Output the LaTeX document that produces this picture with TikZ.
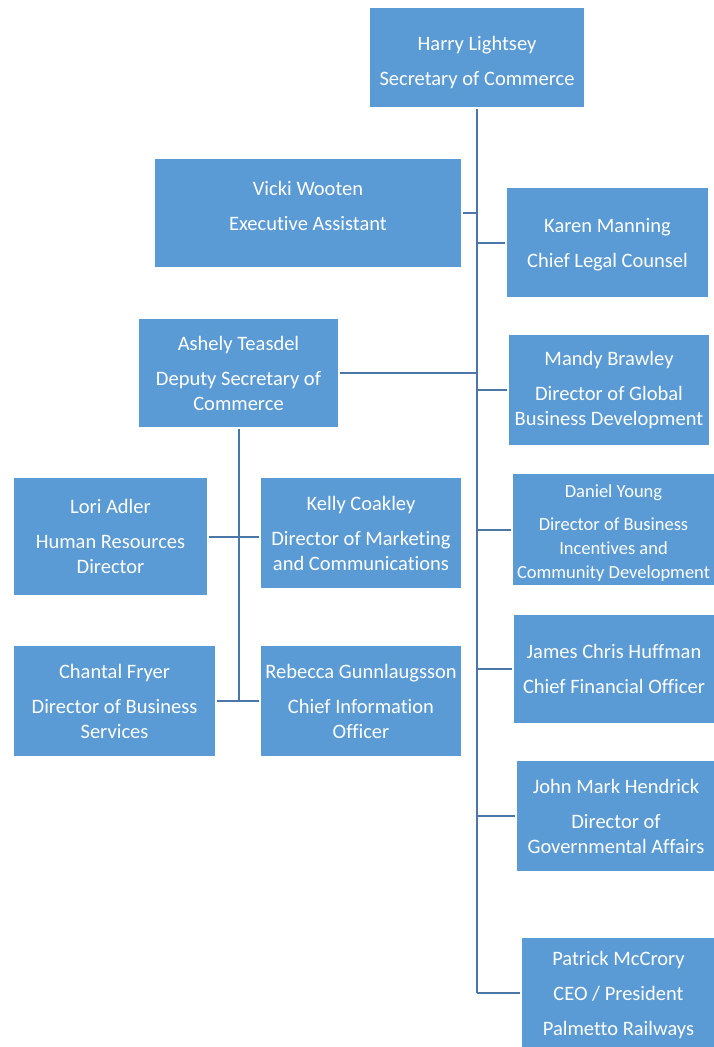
\documentclass[tikz,border=0pt]{standalone}
\usepackage{fontspec}
\setmainfont{Carlito}[Ligatures=NoCommon]
\definecolor{boxblue}{HTML}{5B9BD5}
\definecolor{boxgray}{HTML}{CFCFCF}
\definecolor{linkblue}{HTML}{4A76A8}
\newcommand\padtop[1]{\raisebox{#1}{\vphantom{Hl}}}
\newcommand\padbot[1]{\raisebox{-#1}{\vphantom{gy}}}
\begin{document}
\begin{tikzpicture}[x=1pt,y=-1pt,
  box/.style={rectangle, fill=boxblue, draw=white, line width=1.2pt,
    preaction={draw=boxgray, line width=2.8pt},
    text=white, align=center, inner sep=0pt,
    font=\fontsize{20.5}{25}\selectfont},
  smallbox/.style={box, font=\fontsize{18.5}{24}\selectfont},
  conn/.style={draw=linkblue, line width=2pt}]
\useasboundingbox (0,0) rectangle (714,1047);
\fill[white] (0,0) rectangle (714,1047);

% top
\node[box, minimum width=216pt, minimum height=101pt] (harry) at (477,57.5) {\padtop{10pt}Harry Lightsey\\[10pt]Secretary of Commerce};

% left of trunk
\node[box, minimum width=308pt, minimum height=110pt] (vicki) at (308,213) {Vicki Wooten\\[10pt]Executive Assistant\padbot{10pt}};
\node[box, minimum width=201pt, minimum height=110pt] (ashely) at (238.5,373) {Ashely Teasdel\\[10pt]Deputy Secretary of\\Commerce};

% right of trunk
\node[box, minimum width=203pt, minimum height=111pt] (karen) at (607.5,242.5) {\padtop{4pt}Karen Manning\\[10pt]Chief Legal Counsel};
\node[box, minimum width=202pt, minimum height=112pt] (mandy) at (609,390) {Mandy Brawley\\[10pt]Director of Global\\Business Development};
\node[smallbox, minimum width=203pt, minimum height=113pt] (daniel) at (613.5,529.5) {\padtop{8pt}Daniel Young\\[9pt]Director of Business\\Incentives and\\Community Development};
\node[box, minimum width=202pt, minimum height=110pt] (james) at (614,669) {James Chris Huffman\\[10pt]Chief Financial Officer};
\node[box, minimum width=200pt, minimum height=112pt] (john) at (616,816) {John Mark Hendrick\\[10pt]Director of\\Governmental Affairs};
\node[box, minimum width=195pt, minimum height=112pt] (patrick) at (618.5,993) {\padtop{4pt}Patrick McCrory\\[10pt]CEO / President\\[10pt]Palmetto Railways};

% under deputy
\node[box, minimum width=195pt, minimum height=119pt] (lori) at (110.5,536.5) {Lori Adler\\[10pt]Human Resources\\Director};
\node[box, minimum width=202pt, minimum height=112pt] (kelly) at (361,533) {Kelly Coakley\\[10pt]Director of Marketing\\and Communications};
\node[box, minimum width=203pt, minimum height=112pt] (chantal) at (114.5,701) {Chantal Fryer\\[10pt]Director of Business\\Services};
\node[box, minimum width=202pt, minimum height=112pt] (rebecca) at (361,701) {Rebecca Gunnlaugsson\\[10pt]Chief Information\\Officer};

% connectors: main trunk
\draw[conn] (harry.south) -- (harry.south |- patrick.west);
\foreach \n in {vicki,ashely}{
  \draw[conn] (\n.east) -- (\n.east -| harry.south);
}
\foreach \n in {karen,mandy,daniel,james,john,patrick}{
  \draw[conn] (\n.west) -- (\n.west -| harry.south);
}
% deputy trunk
\draw[conn] (ashely.south) -- (ashely.south |- chantal.east);
\draw[conn] (lori.east) -- (kelly.west |- lori.east);
\draw[conn] (chantal.east) -- (rebecca.west);
\end{tikzpicture}
\end{document}
